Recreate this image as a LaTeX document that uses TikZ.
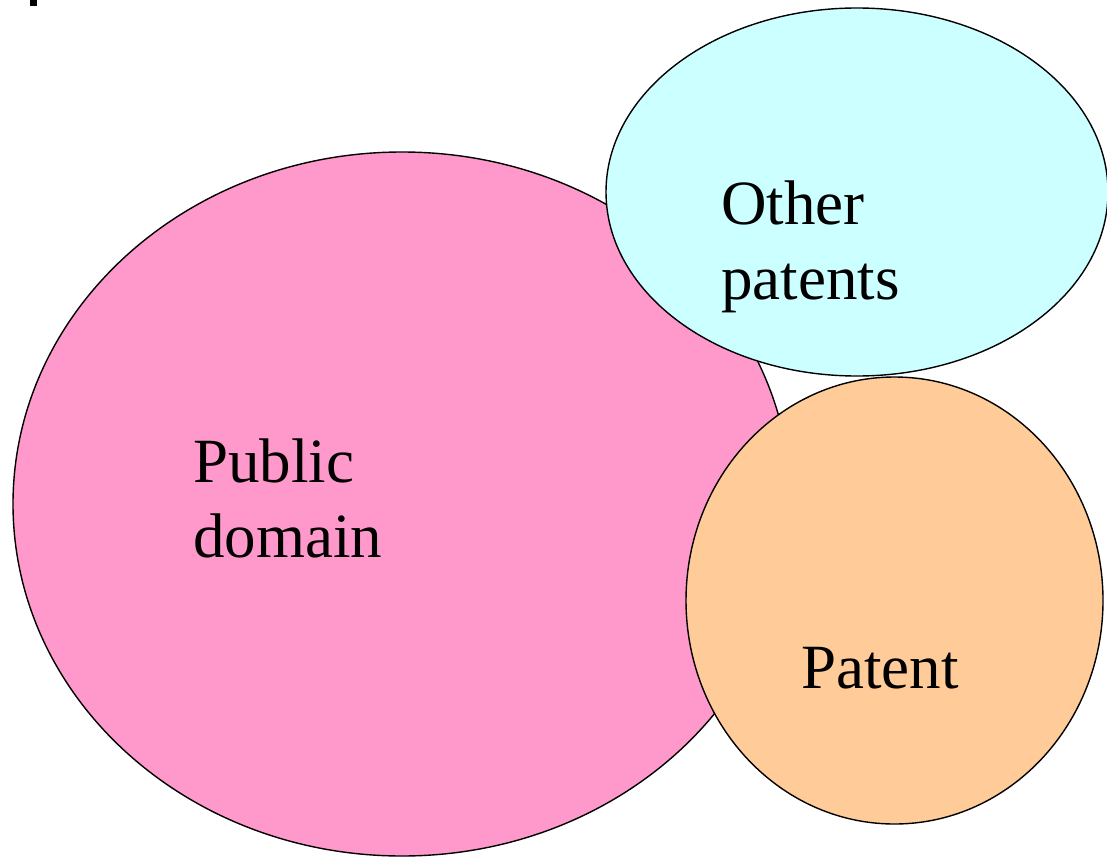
\documentclass[tikz,border=0pt]{standalone}
\usepackage{fontspec}
\setmainfont{Liberation Serif}
\usepackage{tikz}
\usetikzlibrary{shapes.geometric}
\definecolor{pdpink}{HTML}{FF99CC}
\definecolor{opcyan}{HTML}{CCFFFF}
\definecolor{patorange}{HTML}{FFCC99}
\tikzset{
    blob/.style={ellipse,draw,line width=1.4pt,inner sep=0pt},
    txt/.style={anchor=base west,inner sep=0pt,align=left,font=\fontsize{63}{75}\selectfont}
}

\begin{document}
\begin{tikzpicture} [x=1pt,y=-1pt]
\useasboundingbox (0,0) rectangle (1107,856);
\fill (30,0) rectangle (37,6);

\node[blob, fill=pdpink, minimum width=778pt, minimum height=704pt] (1) at (402,504) {};
\node[blob, fill=opcyan, minimum width=502pt, minimum height=368pt] (2) at (857,192) {};
\node[blob, fill=patorange, minimum width=417pt, minimum height=447pt] (3) at (894.5,600.5) {};

\node[txt] (4) at (193,557) {Public\\domain};
\node[txt] (5) at (721,299) {Other\\patents};
\node[txt] (6) at (801,688) {Patent};

\end{tikzpicture}
\end{document}
